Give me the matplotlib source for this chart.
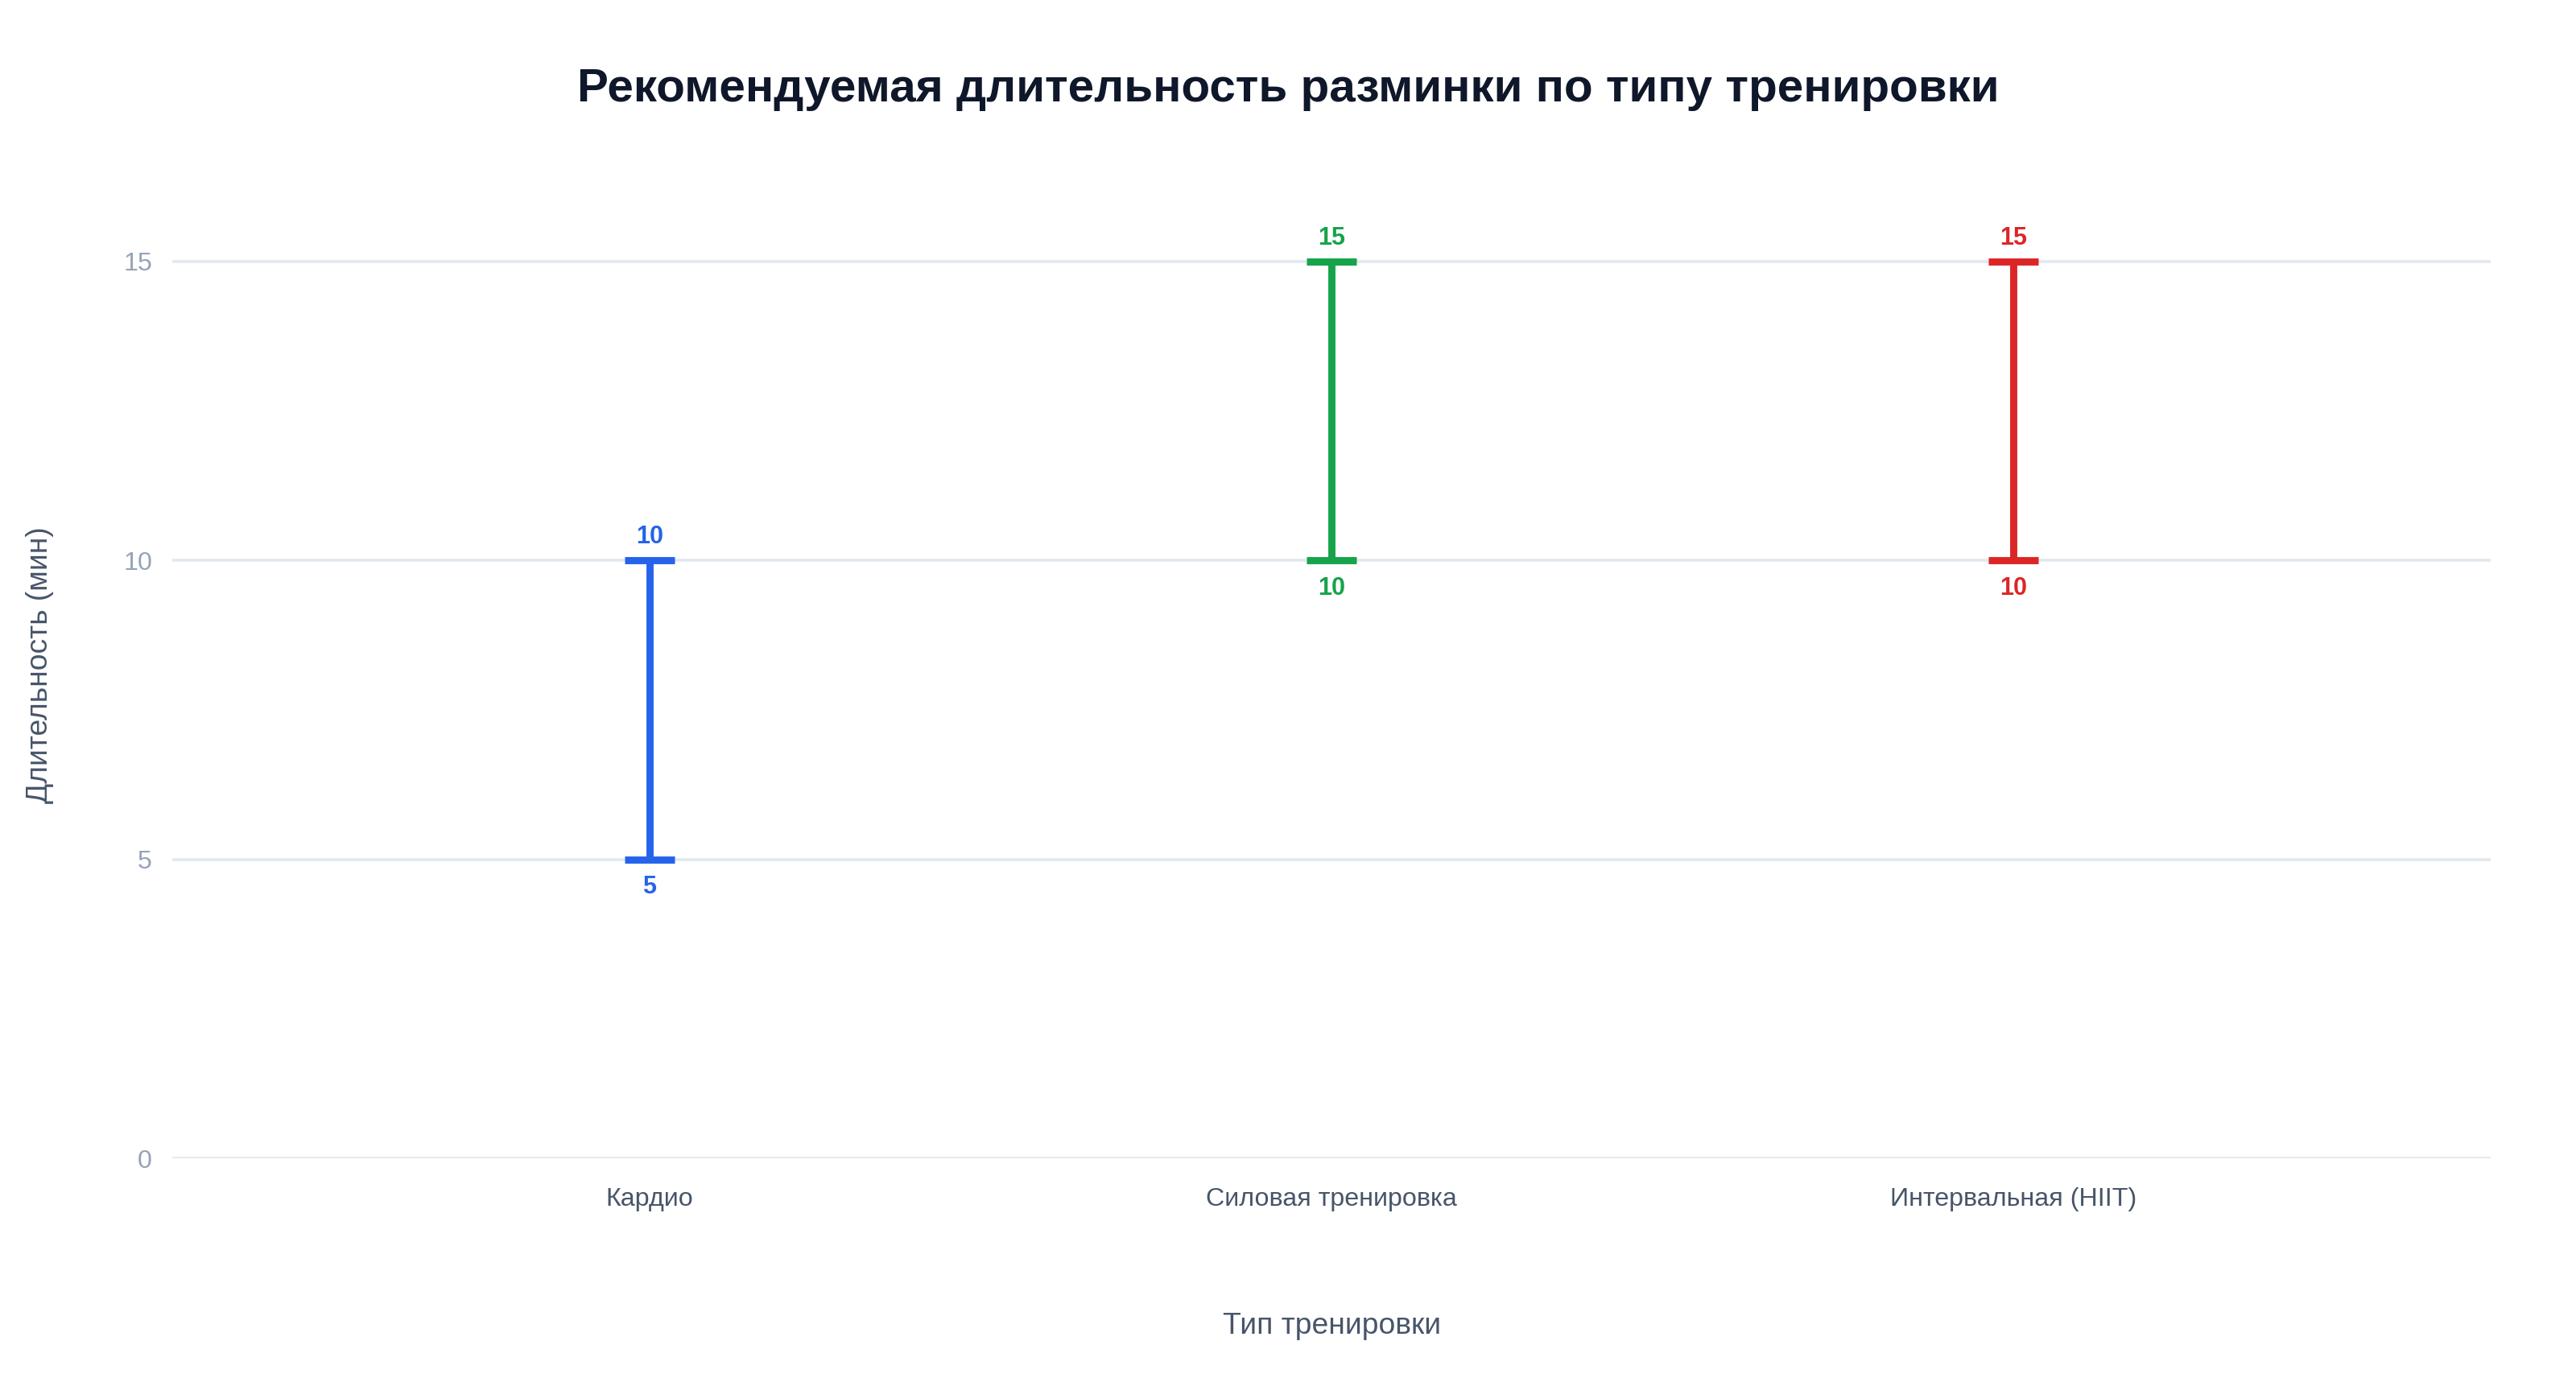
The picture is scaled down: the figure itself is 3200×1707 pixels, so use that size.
import matplotlib
matplotlib.use("Agg")
import matplotlib.pyplot as plt

# data
types = ["Кардио", "Силовая тренировка", "Интервальная (HIIT)"]
min_vals = [5, 10, 10]
max_vals = [10, 15, 15]
colors = ["#2563eb", "#16a34a", "#dc2626"]
y_ticks = [0, 5, 10, 15]

plt.rcParams["font.family"] = ["Liberation Sans", "DejaVu Sans"]

fig = plt.figure(figsize=(16, 8.535), dpi=200, facecolor="white")
ax = fig.add_axes([0.0669, 0.157, 0.9, 0.718])

for i in range(len(types)):
	mid = (min_vals[i] + max_vals[i]) / 2
	half = (max_vals[i] - min_vals[i]) / 2
	ax.errorbar([i], [mid], yerr=[[half], [half]], fmt="none",
		ecolor=colors[i], elinewidth=3.2, capsize=11, capthick=3.2, zorder=3)
	# labels at both ends
	ax.annotate(str(max_vals[i]), (i, max_vals[i]), xytext=(0, 5),
		textcoords="offset points", ha="center", va="bottom",
		fontsize=11, fontweight="bold", color=colors[i])
	ax.annotate(str(min_vals[i]), (i, min_vals[i]), xytext=(0, -7),
		textcoords="offset points", ha="center", va="top",
		fontsize=11, fontweight="bold", color=colors[i])

ax.set_xlim(-0.7, 2.7)
ax.set_ylim(0, 16.5)
ax.set_xticks(range(len(types)))
ax.set_xticklabels(types)
ax.set_yticks(y_ticks)

ax.grid(axis="y", color="#e2e8f0", linewidth=1.3, zorder=0)
ax.set_axisbelow(True)
for s in ax.spines.values():
	s.set_visible(False)

ax.tick_params(axis="x", length=0, pad=13, labelsize=11.6, colors="#475569")
ax.tick_params(axis="y", length=0, pad=9, labelsize=11.6, colors="#94a3b8")

ax.set_xlabel("Тип тренировки", fontsize=13.4, color="#475569", labelpad=45)
ax.set_ylabel("Длительность (мин)", fontsize=13.4, color="#475569", labelpad=31)

fig.text(0.5, 0.935, "Рекомендуемая длительность разминки по типу тренировки",
	ha="center", va="center", fontsize=21, fontweight="bold", color="#0f172a")

fig.savefig("out.png", dpi=200, facecolor="white")
